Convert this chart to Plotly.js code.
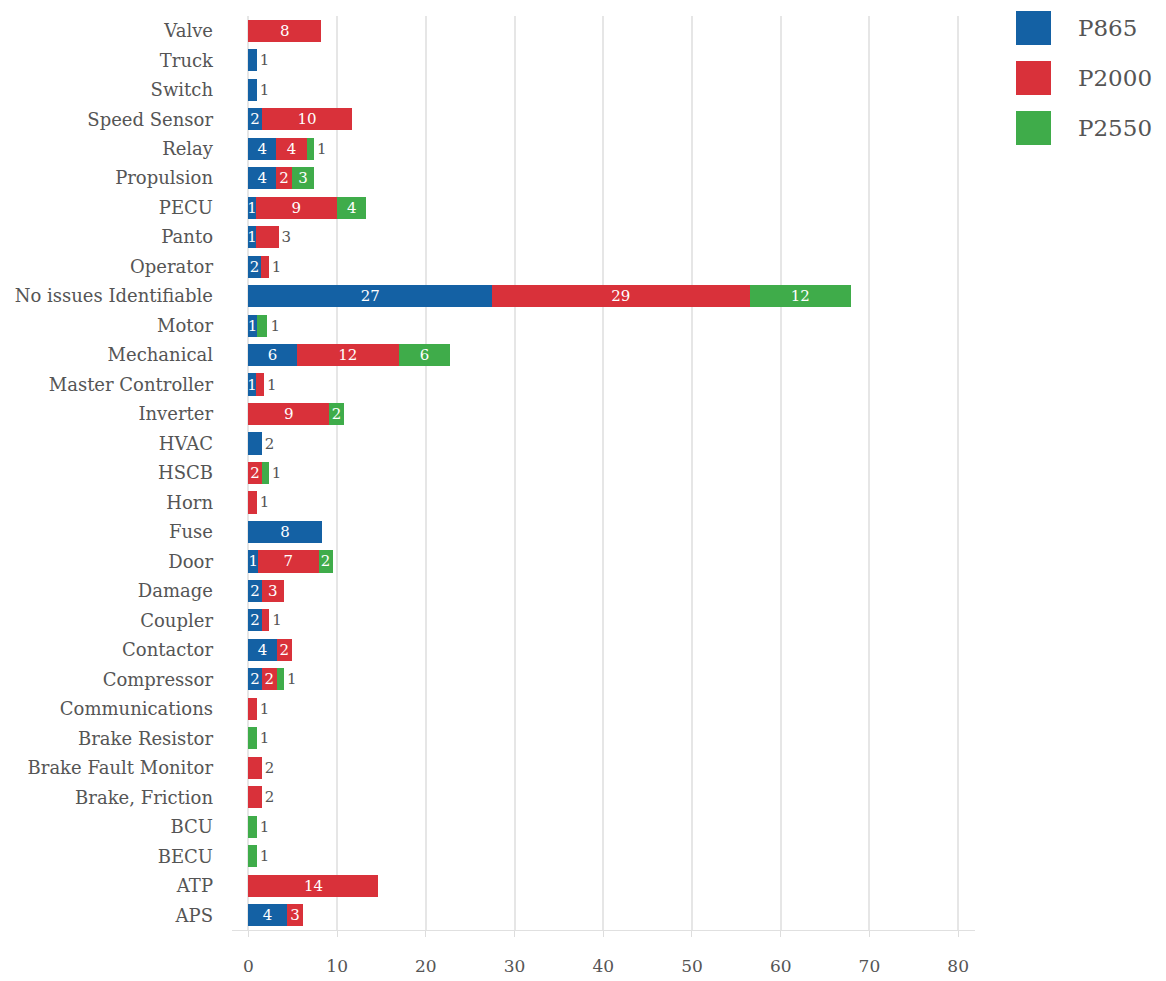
<!DOCTYPE html>
<html>
<head>
<meta charset="utf-8">
<script src="https://cdn.plot.ly/plotly-3.0.1.min.js"></script>
<style>html,body{margin:0;padding:0;background:#fff}#chart{width:1166px;height:981px}</style>
</head>
<body>
<div id="chart"></div>
<script>
// Categories, bottom to top
const categories = ["APS","ATP","BECU","BCU","Brake, Friction","Brake Fault Monitor","Brake Resistor","Communications","Compressor","Contactor","Coupler","Damage","Door","Fuse","Horn","HSCB","HVAC","Inverter","Master Controller","Mechanical","Motor","No issues Identifiable","Operator","Panto","PECU","Propulsion","Relay","Speed Sensor","Switch","Truck","Valve"];

// Bar lengths
const p865Values  = [4.3,null,null,null,null,null,null,null,1.5,3.2,1.5,1.5,1.1,8.25,null,null,1.5,null,0.8,5.45,0.95,27.45,1.4,0.8,0.8,3.1,3.1,1.5,0.95,0.95,null];
const p2000Values = [1.9,14.66,null,null,1.5,1.5,null,0.95,1.7,1.7,0.85,2.5,6.8,null,0.95,1.5,null,9.1,0.95,11.5,null,29.05,0.9,2.6,9.2,1.8,3.5,10.2,null,null,8.2];
const p2550Values = [null,null,0.95,0.95,null,null,0.95,null,0.8,null,null,null,1.6,null,null,0.8,null,1.65,null,5.8,1.2,11.4,null,null,3.3,2.5,0.8,null,null,null,null];

// Labels printed on the bars
const p865Labels  = ["4","","","","","","","","2","4","2","2","1","8","","","2","","1","6","1","27","2","1","1","4","4","2","1","1",""];
const p2000Labels = ["3","14","","","2","2","","1","2","2","1","3","7","","1","2","","9","1","12","","29","1","3","9","2","4","10","","","8"];
const p2550Labels = ["","","1","1","","","1","","1","","","","2","","","1","","2","","6","1","12","","","4","3","1","","","",""];

// Labels drawn beside the bar end
const p865Outside  = ["Truck","Switch","HVAC"];
const p2000Outside = ["Brake, Friction","Brake Fault Monitor","Communications","Coupler","Horn","Master Controller","Operator","Panto"];
const p2550Outside = ["BECU","BCU","Brake Resistor","Compressor","HSCB","Motor","Relay"];

const seriesNames = ["P865","P2000","P2550"];
const colors = ["#1461a4","#d9313a","#3fac4a"];

const FONT = "DejaVu Serif, Georgia, serif";

function mk(name, vals, labels, outside, color) {
  return {
    type: "bar", orientation: "h", name: name,
    y: categories, x: vals, text: labels,
    textposition: categories.map(c => outside.includes(c) ? "outside" : "inside"),
    insidetextanchor: "middle",
    constraintext: "none",
    textangle: 0,
    insidetextfont: {family: FONT, size: 15, color: "#ffffff"},
    outsidetextfont: {family: FONT, size: 15, color: "#555555"},
    marker: {color: color, line: {width: 0}},
    hoverinfo: "x+y+name",
    cliponaxis: false,
    showlegend: false
  };
}

const data = [
  mk(seriesNames[0], p865Values, p865Labels, p865Outside, colors[0]),
  mk(seriesNames[1], p2000Values, p2000Labels, p2000Outside, colors[1]),
  mk(seriesNames[2], p2550Values, p2550Labels, p2550Outside, colors[2])
];

// Custom large legend swatches (paper coordinates)
const W = 1166, H = 981;
const shapes = [], annotations = [];
seriesNames.forEach((n, i) => {
  const top = 11 + i * 50;
  shapes.push({type: "rect", xref: "paper", yref: "paper",
    x0: (1016 - 232) / (975 - 232), x1: (1051 - 232) / (975 - 232),
    y0: 1 - (top + 34 - 16) / (930 - 16), y1: 1 - (top - 16) / (930 - 16),
    fillcolor: colors[i], line: {width: 0}});
  annotations.push({xref: "paper", yref: "paper",
    x: (1076 - 232) / (975 - 232), y: 1 - (top + 17 - 16) / (930 - 16),
    xanchor: "left", yanchor: "middle", showarrow: false, text: n,
    font: {family: FONT, size: 23, color: "#555555"}});
});

const layout = {
  width: W, height: H,
  margin: {l: 232, r: 191, t: 16, b: 51},
  barmode: "stack",
  bargap: 0.25,
  paper_bgcolor: "#ffffff",
  plot_bgcolor: "#ffffff",
  font: {family: FONT, color: "#555555"},
  showlegend: false,
  xaxis: {
    range: [-1.85, 81.9],
    tickvals: [0,10,20,30,40,50,60,70,80],
    showgrid: true, gridcolor: "#e6e6e6", gridwidth: 2,
    zeroline: false,
    showline: true, linecolor: "#e0e0e0", linewidth: 1,
    ticks: "outside", ticklen: 6, tickcolor: "#dddddd",
    ticklabelstandoff: 15,
    tickfont: {family: FONT, size: 17, color: "#555555"}
  },
  yaxis: {
    type: "category",
    showgrid: false, zeroline: false, showline: false,
    ticks: "", ticklabelstandoff: 18,
    tickfont: {family: FONT, size: 18, color: "#555555"}
  },
  shapes: shapes,
  annotations: annotations
};

Plotly.newPlot("chart", data, layout, {displayModeBar: false, staticPlot: true});
</script>
</body>
</html>
